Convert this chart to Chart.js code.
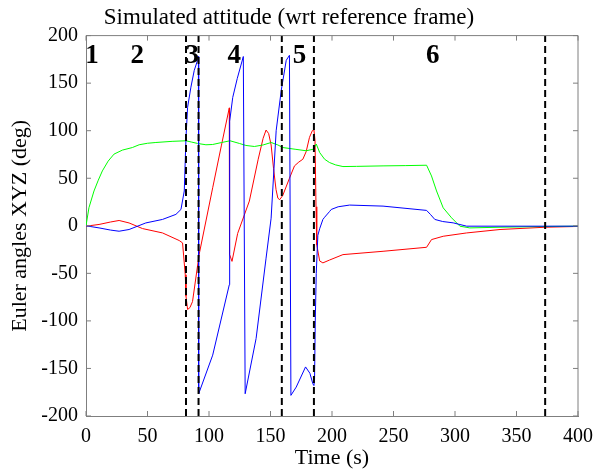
<!DOCTYPE html>
<html>
<head>
<meta charset="utf-8">
<script src="https://cdn.jsdelivr.net/npm/chart.js@4.4.1/dist/chart.umd.min.js"></script>
<style>
  html, body { margin: 0; padding: 0; background: #fff; }
  #chart { display: block; }
</style>
</head>
<body>
<canvas id="chart" width="594" height="473"></canvas>
<script>
// --- data (time in s, angle in deg) ---
const redT = [0, 10.6, 20, 26.9, 35, 45.9, 62.2, 75.8, 78.5, 80.7, 81.3, 82.6, 84.5, 86.6, 92, 103, 110, 116.5,
  116.7, 118.7, 123.3, 132.8, 140, 144, 146.4, 148.5, 150.5, 152.5, 154.5, 156, 157.5, 160, 165.4, 169.5, 173,
  176.3, 179, 181.7, 184, 185.3, 186.2, 187, 187.6, 190, 192.6, 198, 208.9, 241.5, 276.9, 280.9, 290.4, 309.5,
  336.6, 373.3, 400];
const redDeg = [-0.4, 1.4, 4, 5.6, 3, -2.9, -7.5, -15.5, -18, -51.5, -74, -88, -86, -79.7, -30, 40, 84, 124,
  -30, -37.4, -8, 26, 70, 92, 100.7, 97, 85, 60, 38, 29, 27.5, 32, 50, 63, 67,
  70, 78, 93, 100, 101, 90, 20, -20, -37, -39, -36, -30.3, -26.8, -22.6, -14.5, -11, -7.5,
  -3.9, -1.5, -0.7];

const greenT = [0, 2.4, 6.5, 10, 13.3, 18, 22.8, 29.6, 37.7, 43.2, 50, 56.8, 70, 81.3, 86, 90.7, 97.5, 103, 110,
  117.1, 124.7, 130, 136.9, 144, 150.5, 156, 160, 170, 179, 185, 187.2, 190, 194, 198, 203, 208.9, 220, 241.5,
  260, 276.9, 280.9, 285, 290.4, 297.2, 304, 312, 336.6, 370, 400];
const greenDeg = [0, 19, 36.6, 48, 57.7, 68, 75.4, 79.6, 82.3, 85.2, 86.8, 87.6, 88.8, 89.4, 88, 86.6, 85.2, 85.5, 87.5,
  89.4, 86.6, 84.5, 83.4, 85, 87.6, 85, 82.3, 80.5, 78.9, 80.6, 86, 77, 70, 66.5, 64, 62.3, 62.5, 63,
  63.3, 63.7, 52.4, 36.6, 18.9, 8.4, -0.4, -2.2, -1.5, -0.8, -0.4];

const blueT = [0, 10.6, 20, 26.9, 35, 48.6, 62.2, 73.1, 77.2, 79.9, 81.3, 82.6, 85.3, 88, 90.7, 91.4,
  91.6, 103, 116.5, 116.8, 119.3, 123, 127.9, 129.4, 138.3, 146.4, 150.5, 154.6, 158.7, 162.8, 165.4,
  166.6, 170.9, 178.5, 182, 184.4, 185.3, 185.8, 186.4, 187.2, 188.5, 190, 192.6, 194, 198, 199.4, 205,
  214.3, 241.5, 276.9, 280, 283.6, 290, 298.5, 309.5, 400];
const blueDeg = [0, -2.2, -4.5, -5.7, -3.9, 3, 6.7, 12, 17.2, 36.6, 92.9, 124.6, 145.8, 163.4, 174, 178,
  -176.6, -136, -62, 110, 135, 155, 178, -176.6, -118.5, -34, 8, 100, 142, 174, 179.3,
  -178.3, -169.6, -148.4, -155, -166, -168, -162, -100, -50, -10, -3, 6.7, 9, 15, 17.2, 20,
  21.8, 20.7, 16.2, 12, 6.7, 4.5, 3.1, -0.4, -0.4];

const phaseLines = [81.3, 91.5, 159.2, 185.3, 373.3];
const phaseLabels = ['1', '2', '3', '4', '5', '6'];
const phaseLabelT = [4.9, 41.6, 86.4, 120.6, 173.6, 282];
const phaseLabelDeg = 178;

const xTicks = [0, 50, 100, 150, 200, 250, 300, 350, 400];
const yTicks = [-200, -150, -100, -50, 0, 50, 100, 150, 200];

const SERIF = "'Liberation Serif', 'Times New Roman', serif";
const AXIS_GREY = '#7f7f7f';

function pairs(ts, vs) {
    return ts.map((t, i) => ({ x: t, y: vs[i] }));
}

const datasets = [];
phaseLines.forEach(t => {
    datasets.push({
        data: [{ x: t, y: -200 }, { x: t, y: 200 }],
        borderColor: '#000',
        borderWidth: 2,
        borderDash: [7, 4],
        order: 0
    });
});
datasets.push({ data: pairs(redT, redDeg), borderColor: '#ff0000', borderWidth: 1, order: 3 });
datasets.push({ data: pairs(greenT, greenDeg), borderColor: '#00ff00', borderWidth: 1, order: 2 });
datasets.push({ data: pairs(blueT, blueDeg), borderColor: '#0000ff', borderWidth: 1, order: 1 });

// top/right edges, inward ticks and phase numbers
const decorPlugin = {
    id: 'decor',
    afterDraw(chart) {
        const { ctx, chartArea: a, scales: { x, y } } = chart;
        ctx.save();
        ctx.setLineDash([]);
        ctx.strokeStyle = AXIS_GREY;
        ctx.lineWidth = 1;
        ctx.beginPath();
        ctx.moveTo(a.left, a.top); ctx.lineTo(a.right, a.top); ctx.lineTo(a.right, a.bottom);
        xTicks.forEach(v => {
            const px = x.getPixelForValue(v);
            ctx.moveTo(px, a.bottom); ctx.lineTo(px, a.bottom - 5);
            ctx.moveTo(px, a.top); ctx.lineTo(px, a.top + 5);
        });
        yTicks.forEach(v => {
            const py = y.getPixelForValue(v);
            ctx.moveTo(a.left, py); ctx.lineTo(a.left + 5, py);
            ctx.moveTo(a.right, py); ctx.lineTo(a.right - 5, py);
        });
        ctx.stroke();

        ctx.fillStyle = '#000';
        ctx.font = 'bold 27px ' + SERIF;
        ctx.textAlign = 'center';
        ctx.textBaseline = 'middle';
        phaseLabels.forEach((lbl, i) => {
            ctx.fillText(lbl, x.getPixelForValue(phaseLabelT[i]), y.getPixelForValue(phaseLabelDeg));
        });
        ctx.restore();
    }
};

new Chart(document.getElementById('chart'), {
    type: 'scatter',
    data: { datasets: datasets },
    options: {
        responsive: false,
        devicePixelRatio: 1,
        animation: false,
        showLine: true,
        elements: { point: { radius: 0 }, line: { tension: 0, fill: false } },
        layout: { padding: { left: 0, right: 16, top: 0, bottom: 0 } },
        plugins: {
            legend: { display: false },
            tooltip: { enabled: false },
            title: {
                display: true,
                text: 'Simulated attitude (wrt reference frame)',
                color: '#000',
                font: { family: SERIF, size: 23, weight: 'normal' },
                padding: { top: 4, bottom: 4 }
            }
        },
        scales: {
            x: {
                type: 'linear',
                min: 0, max: 400,
                afterFit: s => { s.height = 57; s.paddingLeft = 0; s.paddingRight = 0; },
                afterBuildTicks: s => { s.ticks = xTicks.map(v => ({ value: v })); },
                ticks: { color: '#000', font: { family: SERIF, size: 20 }, padding: 9, maxRotation: 0 },
                grid: { display: true, drawOnChartArea: false, drawTicks: false, color: 'rgba(0,0,0,0)' },
                border: { display: true, color: AXIS_GREY, width: 1 },
                title: {
                    display: true, text: 'Time (s)', color: '#000',
                    font: { family: SERIF, size: 22 }, padding: { top: 0, bottom: 2 }
                }
            },
            y: {
                type: 'linear',
                min: -200, max: 200,
                afterFit: s => { s.width = 86; s.paddingTop = 0; s.paddingBottom = 0; },
                afterBuildTicks: s => { s.ticks = yTicks.map(v => ({ value: v })); },
                ticks: { color: '#000', font: { family: SERIF, size: 20 }, padding: 8 },
                grid: { display: true, drawOnChartArea: false, drawTicks: false, color: 'rgba(0,0,0,0)' },
                border: { display: true, color: AXIS_GREY, width: 1 },
                title: {
                    display: true, text: 'Euler angles XYZ (deg)', color: '#000',
                    font: { family: SERIF, size: 22 }, padding: { top: 7, bottom: 0 }
                }
            }
        }
    },
    plugins: [decorPlugin]
});
</script>
</body>
</html>
